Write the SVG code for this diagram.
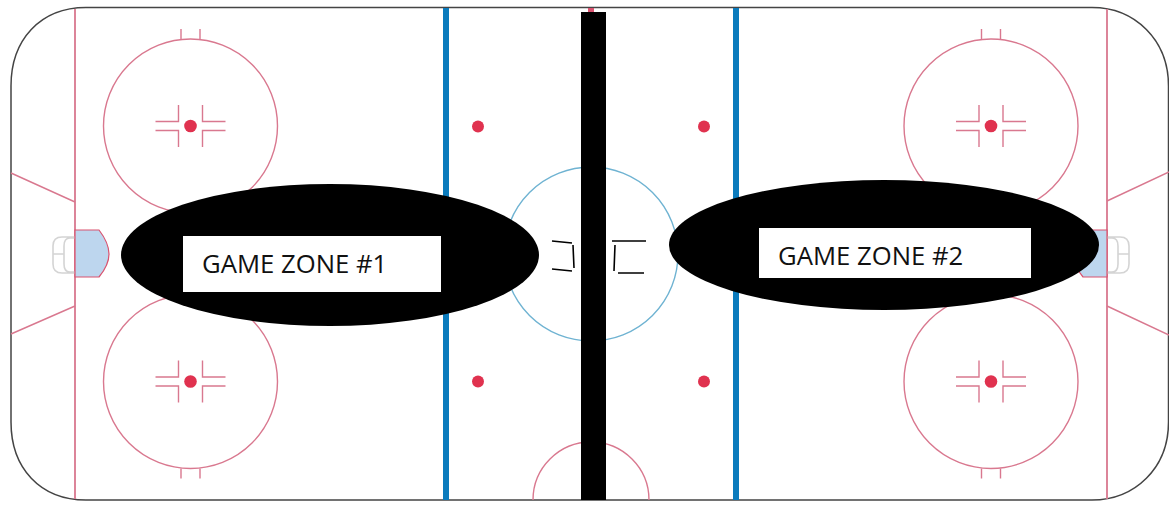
<svg xmlns="http://www.w3.org/2000/svg" width="1169" height="508" viewBox="0 0 1169 508">
<style>
.red{fill:none;stroke:#d9788f;stroke-width:1.400}
.goal{fill:none;stroke:#d4d4d4;stroke-width:1.600}
.crease{fill:#bdd6ee;stroke:#d9536f;stroke-width:1.200}
.dot{fill:#e0324f}
.blue{fill:#0b7bbd}
.blk{fill:#000}
.tick{fill:none;stroke:#000;stroke-width:1.600}
.box{fill:#fff}
text{font-family:"Open Sans","Liberation Sans",sans-serif;font-size:25.700px;fill:#111}
</style>
<defs>
<g id="circle">
<circle cx="0" cy="0" r="87" class="red"/>
<path class="red" d="M-9.500-87V-97M9.500-87V-97M-9.500 87V97M9.500 87V97"/>
<path class="red" d="M-35-4.500H-12V-21M-35 4.500H-12V21M35-4.500H12V-21M35 4.500H12V21"/>
<circle cx="0" cy="0" r="6.300" class="dot"/>
</g>
</defs>
<rect width="1169" height="508" fill="#fff"/>
<g id="rink">
<path d="M1168.500 86C1168.500 40 1135 7.500 1092 7.500H86C40 7.500 11 40 11 86V422C11 468 40 500 86 500H1092C1135 500 1168.500 468 1168.500 422Z" fill="none" stroke="#444" stroke-width="1.500"/>
</g>
<g id="markings">
<path class="red" style="stroke-width:1.800" d="M75 9V499M1107 9V499"/>
<path class="red" d="M11 173L75 202M11 334L75 306M1107 201L1169 172M1107 306L1169 335"/>
<path class="goal" d="M75 237H62Q53 237 53 246V264Q53 273 62 273H75M75 238H70Q64 238 64 246V264Q64 272 70 272H75M53 254H64"/>
<path class="goal" d="M1107 237H1120Q1129 237 1129 246V264Q1129 273 1120 273H1107M1107 238H1112Q1118 238 1118 246V264Q1118 272 1112 272H1107M1118 254H1129"/>
<path class="crease" d="M75 230H99Q109 243 109 254Q109 265 99 277H75Z"/>
<path class="crease" d="M1107 230H1083Q1073 243 1073 254Q1073 265 1083 277H1107Z"/>
<rect class="blue" x="443" y="8" width="6" height="492"/>
<rect class="blue" x="733" y="8" width="6" height="492"/>
<circle cx="591" cy="254" r="87" fill="none" stroke="#6fb3d2" stroke-width="1.400"/>
<path class="red" d="M533 500A58 58 0 0 1 649 500"/>
<rect x="588" y="8" width="6" height="5" fill="#d9536f"/>
<circle class="dot" cx="478" cy="126.500" r="6"/>
<circle class="dot" cx="704" cy="126.500" r="6"/>
<circle class="dot" cx="478" cy="381.500" r="6"/>
<circle class="dot" cx="704" cy="381.500" r="6"/>
<use href="#circle" x="190.500" y="126"/>
<use href="#circle" x="190.500" y="381.500"/>
<use href="#circle" x="991" y="126"/>
<use href="#circle" x="991" y="381.500"/>
</g>
<g id="center-bar"><rect class="blk" x="581" y="12" width="25" height="488"/></g>
<g id="center-ticks">
<path class="tick" d="M552 241L572 243M573 245L574 268M552 269L572 271M612 241H646M615 245L614 271M618 273H644"/>
</g>
<g id="zone1">
<ellipse class="blk" cx="330" cy="255" rx="209" ry="71"/>
<rect class="box" x="183" y="236" width="258" height="56"/>
<text x="202" y="273">GAME ZONE #1</text>
</g>
<g id="zone2">
<ellipse class="blk" cx="884" cy="245" rx="215" ry="65"/>
<rect class="box" x="759" y="228" width="272" height="50"/>
<text x="778" y="265">GAME ZONE #2</text>
</g>
</svg>
